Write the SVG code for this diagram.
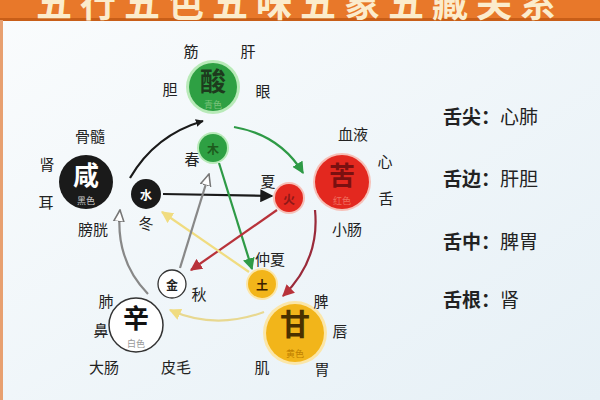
<svg xmlns="http://www.w3.org/2000/svg" width="600" height="400" viewBox="0 0 600 400">
<defs>
<linearGradient id="bg" x1="0" y1="0" x2="1" y2="1">
<stop offset="0" stop-color="#fafcfd"/>
<stop offset="1" stop-color="#e6f0f6"/>
</linearGradient>
<marker id="aBlack" viewBox="0 0 10 10" refX="9" refY="5" markerWidth="8" markerHeight="8" orient="auto" markerUnits="userSpaceOnUse"><path d="M0,0 L10,5 L0,10 z" fill="#1a1a1a"/></marker>
<marker id="aGreen" viewBox="0 0 10 10" refX="9" refY="5" markerWidth="12" markerHeight="12" orient="auto" markerUnits="userSpaceOnUse"><path d="M0,0 L10,5 L0,10 z" fill="#2e9a46"/></marker>
<marker id="aRed" viewBox="0 0 10 10" refX="9" refY="5" markerWidth="12" markerHeight="12" orient="auto" markerUnits="userSpaceOnUse"><path d="M0,0 L10,5 L0,10 z" fill="#b8323a"/></marker>
<marker id="aYellow" viewBox="0 0 10 10" refX="9" refY="5" markerWidth="12" markerHeight="12" orient="auto" markerUnits="userSpaceOnUse"><path d="M0,0 L10,5 L0,10 z" fill="#f0dc80"/></marker>
<marker id="aHollow" viewBox="0 0 10 10" refX="9" refY="5" markerWidth="13" markerHeight="13" orient="auto" markerUnits="userSpaceOnUse"><path d="M0,1 L9,5 L0,9 z" fill="#ffffff" stroke="#777" stroke-width="1.2"/></marker>
<marker id="aBlackBig" viewBox="0 0 10 10" refX="9" refY="5" markerWidth="13" markerHeight="13" orient="auto" markerUnits="userSpaceOnUse"><path d="M0,0 L10,5 L0,10 z" fill="#1a1a1a"/></marker>
</defs>
<style>
text{font-family:"Noto Sans CJK SC","Noto Sans CJK JP",sans-serif;text-anchor:middle;dominant-baseline:central}
.lab{font-size:15px;fill:#222}
.big{font-size:26px;font-weight:bold}
.sub{font-size:9px}
.sm{font-size:12px;font-weight:bold}
.tongue{font-size:19px;fill:#222;text-anchor:start}
.tk{font-weight:bold}
.ln{fill:none;stroke-width:2.2}
</style>
<rect width="600" height="400" fill="url(#bg)"/>
<rect x="0" y="0" width="600" height="20" fill="#e8782a"/>
<rect x="0" y="18" width="600" height="3" fill="#c85e18"/>
<rect x="0" y="20" width="3" height="380" fill="#e8a070"/>
<text x="300" y="1" style="font-size:36px;font-weight:bold;fill:#fbeccc;letter-spacing:8px">五行五色五味五象五藏关系</text>

<g id="connectors">
<path class="ln" d="M130,178 Q155,135 203,121" stroke="#1a1a1a" marker-end="url(#aBlack)"/>
<path class="ln" d="M234,127 Q280,135 303,173" stroke="#2e9a46" marker-end="url(#aGreen)"/>
<path class="ln" d="M315,210 Q320,260 283,296" stroke="#9a2a3a" marker-end="url(#aRed)"/>
<path class="ln" d="M264,312 Q215,330 170,310" stroke="#e8d890" marker-end="url(#aYellow)"/>
<path class="ln" d="M148,294 Q115,260 120,210" stroke="#888" marker-end="url(#aHollow)"/>
<line class="ln" x1="163" y1="194" x2="272" y2="196" stroke="#1a1a1a" marker-end="url(#aBlackBig)"/>
<line class="ln" x1="219" y1="163" x2="252" y2="269" stroke="#2e9a46" marker-end="url(#aGreen)"/>
<line class="ln" x1="277" y1="210" x2="191" y2="270" stroke="#b8323a" marker-end="url(#aRed)"/>
<line class="ln" x1="249" y1="272" x2="162" y2="212" stroke="#f0dc80" marker-end="url(#aYellow)"/>
<line class="ln" x1="180" y1="268" x2="209" y2="174" stroke="#888" marker-end="url(#aHollow)"/>
</g>

<g id="node-suan">
<circle cx="213" cy="87" r="27" fill="#b8eab8"/>
<circle cx="213" cy="87" r="24" fill="#2ea043"/>
<text x="213" y="79" class="big" fill="#1d3b1d">酸</text>
<text x="213" y="104" class="sub" fill="#7ac27a">青色</text>
<text x="191" y="50" class="lab">筋</text>
<text x="248" y="50" class="lab">肝</text>
<text x="170" y="88" class="lab">胆</text>
<text x="263" y="90" class="lab">眼</text>
</g>
<g id="node-mu">
<circle cx="213" cy="148" r="16" fill="#b8eab8"/>
<circle cx="213" cy="148" r="14" fill="#2ea043"/>
<text x="213" y="148" class="sm" fill="#1d5b1d">木</text>
<text x="192" y="158" class="lab">春</text>
</g>

<g id="node-ku">
<circle cx="342" cy="182" r="29" fill="#f6c0b8"/>
<circle cx="342" cy="182" r="27" fill="#e3281f"/>
<text x="342" y="173" class="big" fill="#7a1010">苦</text>
<text x="342" y="200" class="sub" fill="#f07060">红色</text>
<text x="353" y="133" class="lab">血液</text>
<text x="385" y="160" class="lab">心</text>
<text x="386" y="197" class="lab">舌</text>
<text x="347" y="228" class="lab">小肠</text>
</g>
<g id="node-huo">
<circle cx="289" cy="198" r="16" fill="#f6c0b8"/>
<circle cx="289" cy="198" r="14" fill="#e3281f"/>
<text x="289" y="198" class="sm" fill="#901818">火</text>
<text x="268" y="180" class="lab">夏</text>
</g>

<g id="node-gan">
<circle cx="295" cy="333" r="32" fill="#fbe6a8"/>
<circle cx="295" cy="333" r="29" fill="#f2b51a"/>
<text x="295" y="322" class="big" fill="#4a3000" style="font-size:30px">甘</text>
<text x="295" y="353" class="sub" fill="#c08000">黄色</text>
<text x="321" y="300" class="lab">脾</text>
<text x="340" y="330" class="lab">唇</text>
<text x="262" y="366" class="lab">肌</text>
<text x="322" y="368" class="lab">胃</text>
</g>
<g id="node-tu">
<circle cx="262" cy="284" r="16" fill="#fbe6a8"/>
<circle cx="262" cy="284" r="14" fill="#f2b51a"/>
<text x="262" y="284" class="sm" fill="#3a2000">土</text>
<text x="270" y="258" class="lab">仲夏</text>
</g>

<g id="node-xin">
<circle cx="136" cy="325" r="27" fill="#ffffff" stroke="#333" stroke-width="1.5"/>
<text x="136" y="316" class="big" fill="#111">辛</text>
<text x="136" y="343" class="sub" fill="#999">白色</text>
<text x="106" y="300" class="lab">肺</text>
<text x="101" y="329" class="lab">鼻</text>
<text x="104" y="366" class="lab">大肠</text>
<text x="176" y="366" class="lab">皮毛</text>
</g>
<g id="node-jin">
<circle cx="172" cy="284" r="14" fill="#ffffff" stroke="#333" stroke-width="1.3"/>
<text x="172" y="284" class="sm" fill="#222">金</text>
<text x="199" y="293" class="lab">秋</text>
</g>

<g id="node-xian">
<circle cx="86" cy="182" r="27" fill="#1a1a1a"/>
<text x="86" y="173" class="big" fill="#ffffff">咸</text>
<text x="86" y="200" class="sub" fill="#cccccc">黑色</text>
<text x="90" y="135" class="lab">骨髓</text>
<text x="47" y="163" class="lab">肾</text>
<text x="46" y="201" class="lab">耳</text>
<text x="93" y="228" class="lab">膀胱</text>
</g>
<g id="node-shui">
<circle cx="146" cy="194" r="15" fill="#1a1a1a"/>
<text x="146" y="194" class="sm" fill="#ffffff">水</text>
<text x="146" y="222" class="lab">冬</text>
</g>

<g id="legend">
<text x="443" y="115" class="tongue"><tspan class="tk">舌尖：</tspan>心肺</text>
<text x="443" y="177" class="tongue"><tspan class="tk">舌边：</tspan>肝胆</text>
<text x="443" y="240" class="tongue"><tspan class="tk">舌中：</tspan>脾胃</text>
<text x="443" y="298" class="tongue"><tspan class="tk">舌根：</tspan>肾</text>
</g>
</svg>
